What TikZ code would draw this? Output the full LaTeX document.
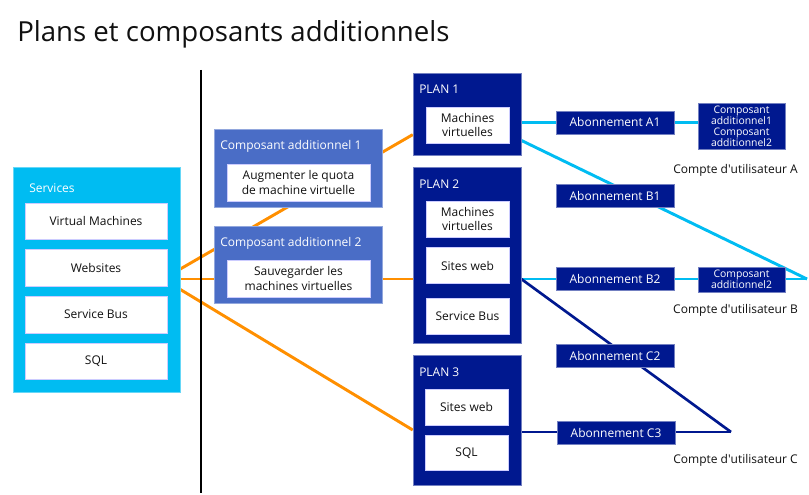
\documentclass[tikz,border=0pt]{standalone}
\usepackage{fontspec}
\setmainfont{Open Sans}
\usetikzlibrary{positioning,calc,backgrounds}
\definecolor{svcblue}{HTML}{00BCF2}
\definecolor{planblue}{HTML}{00188F}
\definecolor{compblue}{HTML}{4A6DC6}
\definecolor{linkorange}{HTML}{FF8F00}
\definecolor{inktext}{HTML}{101010}

\begin{document}
\begin{tikzpicture}[
  x=0.75pt, y=-0.75pt,
  every node/.style={font=\fontsize{9}{10.8}\selectfont, inner sep=0pt},
  wh/.style 2 args={minimum width=#1*0.75pt, minimum height=#2*0.75pt},
  svcbox/.style={rectangle, fill=svcblue, draw=svcblue!60!white, line width=0.4pt},
  compbox/.style={rectangle, fill=compblue, draw=compblue!60!white, line width=0.4pt},
  planbox/.style={rectangle, fill=planblue, draw=planblue!55!white, line width=0.4pt},
  whitebox/.style={rectangle, fill=white, draw=blue!20, line width=0.4pt,
                   text=inktext, align=center},
  subbox/.style={rectangle, fill=planblue, draw=planblue!55!white, line width=0.4pt,
                 text=white, wh={118}{23}},
  addbox/.style={rectangle, fill=planblue, draw=planblue!55!white, line width=0.4pt,
                 text=white, align=center, font=\fontsize{7.8}{8.3}\selectfont},
  lbl/.style={text=white, anchor=west},
  account/.style={text=inktext},
  orangeline/.style={-, line width=2.2pt, linkorange},
  blueline/.style={-, line width=2.2pt, svcblue},
  navyline/.style={-, line width=2pt, planblue},
]
  \useasboundingbox (0,0) rectangle (809,495);

  % Title
  \node[font=\fontsize{20.7}{25}\selectfont, anchor=base west, text=inktext] (title)
    at (17,42) {Plans et composants additionnels};

  % Services
  \node[svcbox, wh={167}{225}] (services) at (96.5,279.5) {};
  \node[lbl] (svctitle) at (29,188) {Services};
  \node[whitebox, wh={142}{36}] (vm) at (96,221) {Virtual Machines};
  \node[whitebox, wh={142}{37}, below=7.5pt of vm] (web) {Websites};
  \node[whitebox, wh={142}{37}, below=6.75pt of web] (bus) {Service Bus};
  \node[whitebox, wh={142}{36}, below=7.5pt of bus] (sql) {SQL};

  % Add-ons
  \node[compbox, wh={168}{78}] (comp1) at (298,168) {};
  \node[lbl] (comp1title) at (220,146) {Composant additionnel 1};
  \node[whitebox, wh={143}{37}] (quota) at (298.5,182.5)
    {Augmenter le quota\\de machine virtuelle};
  \node[compbox, wh={168}{77}] (comp2) at (298,264.5) {};
  \node[lbl] (comp2title) at (220,243) {Composant additionnel 2};
  \node[whitebox, wh={143}{37}] (backup) at (298.5,278.5)
    {Sauvegarder les\\machines virtuelles};

  % Plans
  \node[planbox, wh={108}{82}] (plan1) at (467,114) {};
  \node[lbl] (plan1title) at (419,89) {PLAN 1};
  \node[whitebox, wh={83}{36}] (vm1) at (467.5,125) {Machines\\virtuelles};

  \node[planbox, wh={108}{176}] (plan2) at (467,255) {};
  \node[lbl] (plan2title) at (419,184) {PLAN 2};
  \node[whitebox, wh={83}{36}] (vm2) at (467.5,219) {Machines\\virtuelles};
  \node[whitebox, wh={83}{36}, below=7.5pt of vm2] (web2) {Sites web};
  \node[whitebox, wh={83}{36}, below=10.5pt of web2] (bus2) {Service Bus};

  \node[planbox, wh={108}{130}] (plan3) at (467,420) {};
  \node[lbl] (plan3title) at (419,372) {PLAN 3};
  \node[whitebox, wh={83}{36}] (web3) at (466.5,407) {Sites web};
  \node[whitebox, wh={83}{35}, below=7.5pt of web3] (sql3) {SQL};

  % Subscriptions
  \node[subbox] (a1) at (615,122.5) {Abonnement A1};
  \node[subbox] (b1) at (615,196) {Abonnement B1};
  \node[subbox] (b2) at (615,279) {Abonnement B2};
  \node[subbox] (c2) at (615,355.5) {Abonnement C2};
  \node[subbox] (c3) at (616,432.5) {Abonnement C3};

  \node[addbox, wh={87}{46}] (compa) at (741.5,126)
    {Composant\\additionnel1\\Composant\\additionnel2};
  \node[addbox, wh={87}{25}] (compb) at (741.5,279.5)
    {Composant\\additionnel2};

  % Accounts
  \node[account] (usera) at (735.5,170) {Compte d\textquotesingle utilisateur A};
  \node[account] (userb) at (735.5,310) {Compte d\textquotesingle utilisateur B};
  \node[account] (userc) at (735.5,460) {Compte d\textquotesingle utilisateur C};

  \coordinate (hub) at (163,279);
  \coordinate (tipb) at (807,279);
  \coordinate (tipc) at (731,432);

  \begin{scope}[on background layer]
    % orange links
    \draw[orangeline] (hub) -- ($(plan1.south west)!.25!(plan1.north west)$);
    \draw[orangeline] (hub) -- (hub -| plan2.west);
    \draw[orangeline] (hub) -- ([yshift=-7.5pt]plan3.west);
    % account B
    \draw[blueline] (plan1.east |- a1) -- (a1.west);
    \draw[blueline] (a1.east) -- (a1.east -| compa.west);
    \draw[blueline] ($(plan1.south east)!.18!(plan1.north east)$) -- (tipb);
    \draw[blueline] (plan2.east |- tipb) -- (tipb);
    % account C
    \draw[navyline] (plan2.east |- tipb) -- (tipc);
    \draw[navyline] (plan3.east |- tipc) -- (tipc);
  \end{scope}

  % Divider
  \coordinate (divtop) at (201,70);
  \coordinate (divbot) at (201,493);
  \draw[line width=2.2pt, black] (divtop) -- (divbot);
\end{tikzpicture}
\end{document}
